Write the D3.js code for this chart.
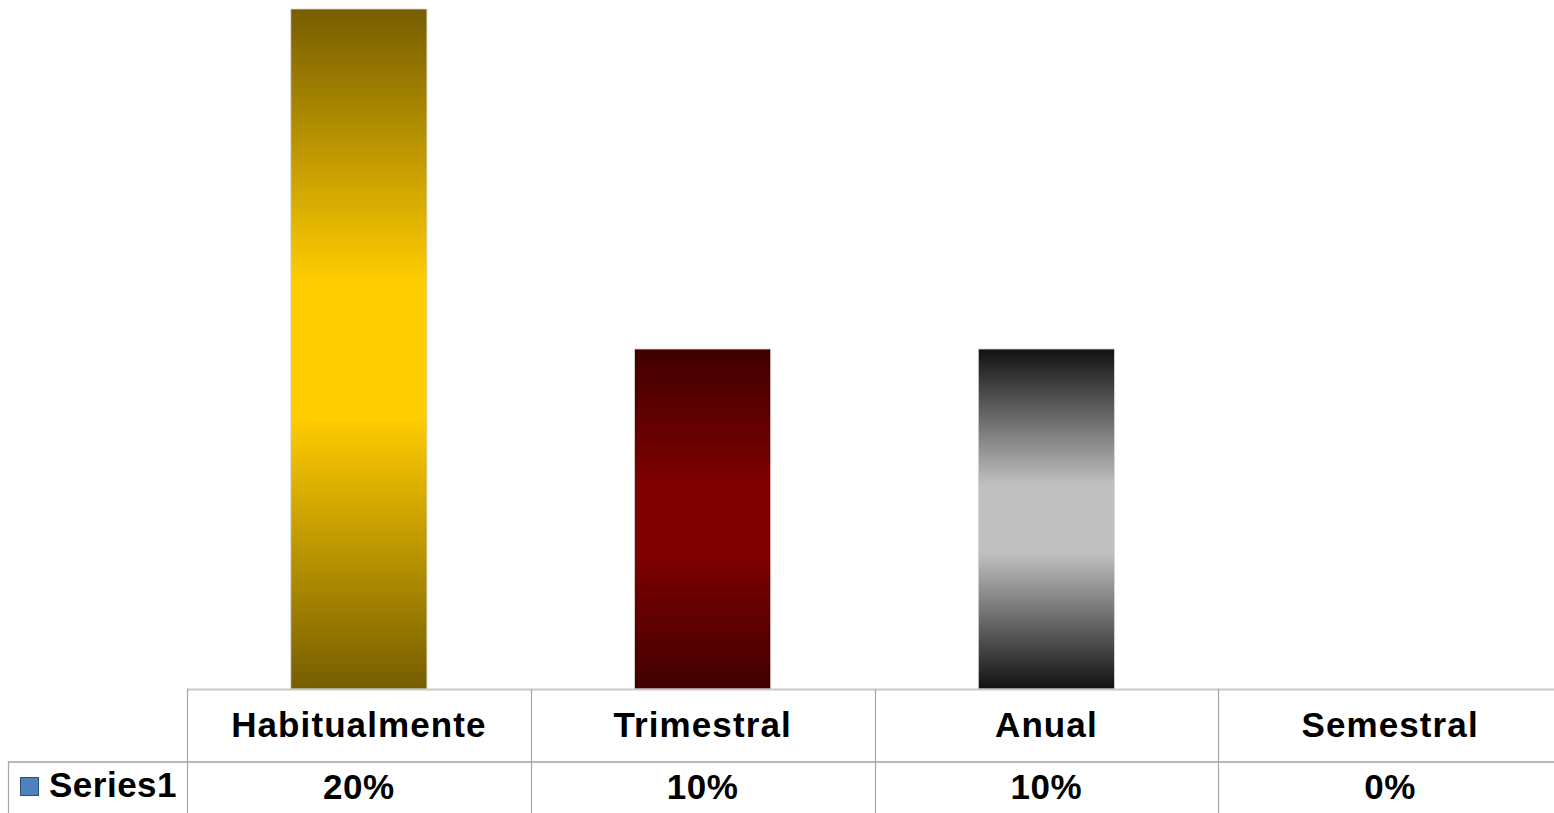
<!DOCTYPE html>
<html>
<head>
<meta charset="utf-8">
<script src="https://cdn.jsdelivr.net/npm/d3@7"></script>
<style>
html,body{margin:0;padding:0;background:#fff;overflow:hidden;}
svg{display:block;}
text{font-family:"Liberation Sans",Arial,sans-serif;font-weight:bold;fill:#000;}
</style>
</head>
<body>
<svg id="chart" width="1554" height="813"></svg>
<script>
const categories = ["Habitualmente", "Trimestral", "Anual", "Semestral"];
const values = [0.20, 0.10, 0.10, 0.0];
const valueLabels = ["20%", "10%", "10%", "0%"];
const seriesName = "Series1";
const gradientStops = [
  ["#765d00", "#ffcc00"],
  ["#400000", "#800000"],
  ["#111111", "#c0c0c0"],
  ["#1f3a5f", "#4f81bd"]
];

(function () {
const W = 1554, H = 813;
const svg = d3.select("#chart");
const left = 187, colW = 343.75, right = left + colW * categories.length;
const base = 689, plotTop = 9;
const rowSep = 762;

const xCol = d3.scaleBand().domain(categories).range([left, right]).padding(0);
const xBar = d3.scaleBand().domain(categories).range([left, right])
  .paddingInner(0.604).paddingOuter(0.302);
const y = d3.scaleLinear().domain([0, 0.2]).range([base, plotTop]);

const defs = svg.append("defs");
categories.forEach((c, i) => {
  const g = defs.append("linearGradient").attr("id", "grad" + i)
    .attr("x1", 0).attr("y1", 0).attr("x2", 0).attr("y2", 1);
  const [d, b] = gradientStops[i];
  g.append("stop").attr("offset", "0%").attr("stop-color", d);
  g.append("stop").attr("offset", "40%").attr("stop-color", b);
  g.append("stop").attr("offset", "60%").attr("stop-color", b);
  g.append("stop").attr("offset", "100%").attr("stop-color", d);
});

// bars
svg.append("g").selectAll("rect").data(categories).join("rect")
  .attr("x", c => xBar(c))
  .attr("width", xBar.bandwidth())
  .attr("y", (c, i) => y(values[i]))
  .attr("height", (c, i) => base - y(values[i]))
  .attr("fill", (c, i) => `url(#grad${i})`)
  .attr("stroke", "#d8d8d8").attr("stroke-width", 0.8)
  .attr("display", (c, i) => values[i] > 0 ? null : "none");

// table lines
const lines = svg.append("g").attr("stroke", "#a6a6a6").attr("stroke-width", 1.2).attr("fill", "none");
lines.append("line").attr("x1", left).attr("x2", W).attr("y1", base + 0.5).attr("y2", base + 0.5)
  .attr("stroke", "#c8c8c8").attr("stroke-width", 2);
lines.append("line").attr("x1", 8).attr("x2", W).attr("y1", rowSep).attr("y2", rowSep)
  .attr("stroke", "#b8b8b8").attr("stroke-width", 2);
lines.append("line").attr("x1", 8.5).attr("x2", 8.5).attr("y1", rowSep).attr("y2", H);
lines.selectAll("line.v").data(categories).join("line").attr("class", "v")
  .attr("x1", c => Math.round(xCol(c)) + 0.5).attr("x2", c => Math.round(xCol(c)) + 0.5)
  .attr("y1", base).attr("y2", H);

// category labels
svg.append("g").selectAll("text").data(categories).join("text")
  .attr("x", c => xCol(c) + xCol.bandwidth() / 2)
  .attr("y", 737)
  .attr("text-anchor", "middle")
  .attr("font-size", 35)
  .attr("letter-spacing", 1.1)
  .text(c => c);

// value labels
svg.append("g").selectAll("text").data(valueLabels).join("text")
  .attr("x", (v, i) => xCol(categories[i]) + xCol.bandwidth() / 2)
  .attr("y", 799)
  .attr("text-anchor", "middle")
  .attr("font-size", 35)
  .attr("letter-spacing", 0.5)
  .text(v => v);

// legend key
svg.append("rect").attr("x", 20.5).attr("y", 777.5).attr("width", 18).attr("height", 18)
  .attr("fill", "#4f81bd").attr("stroke", "#2c4d75").attr("stroke-width", 1);
svg.append("text").attr("x", 49).attr("y", 797).attr("font-size", 35)
  .attr("letter-spacing", 0.5).text(seriesName);
})();
</script>
</body>
</html>
